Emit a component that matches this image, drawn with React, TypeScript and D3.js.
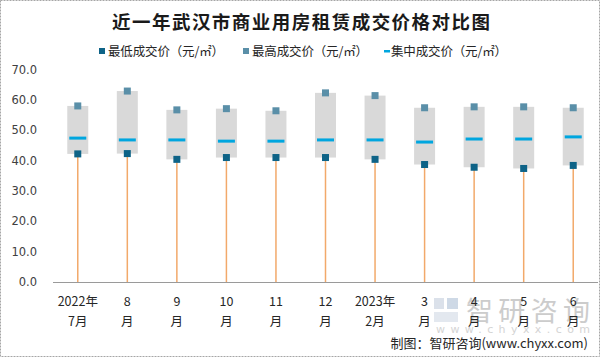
import React from "react";
import * as d3 from "d3";

// tick labels for the x axis (two lines each)
const months = ["2022年7月", "8月", "9月", "10月", "11月", "12月", "2023年2月", "3月", "4月", "5月", "6月"];
const line1 = ["2022年", "8", "9", "10", "11", "12", "2023年", "3", "4", "5", "6"];
const line2 = ["7月", "月", "月", "月", "月", "月", "2月", "月", "月", "月", "月"];

const lowPrice = [42.2, 42.3, 40.4, 41.0, 41.0, 41.0, 40.4, 38.7, 37.8, 37.4, 38.4];
const highPrice = [58.0, 62.9, 56.7, 57.1, 56.4, 62.3, 61.4, 57.4, 57.7, 57.7, 57.4];
const midPrice = [47.4, 46.8, 46.8, 46.4, 46.4, 46.8, 46.8, 46.1, 47.1, 47.1, 47.8];

const yTicks = [0, 10, 20, 30, 40, 50, 60, 70];

const W = 601;
const H = 358;

const cjk = "'Noto Sans CJK SC', sans-serif";

function App() {
  const x = d3.scaleBand().domain(months).range([53, 598]).padding(0);
  const y = d3.scaleLinear().domain([0, 70]).range([282, 69.5]);
  const cx = (m: string) => (x(m) as number) + x.bandwidth() / 2;

  const boxW = 21;
  const sq = 7;
  const midW = 17;

  return (
    <svg width={W} height={H} style={{ position: "absolute", left: 0, top: 0 }}>
      <rect x={0} y={0} width={W} height={H} fill="#fff" />
      <rect x={0.5} y={0.5} width={599} height={356} fill="none" stroke="#a6a6a6" strokeDasharray="2,1" />

      {/* title */}
      <text x={301} y={29} textAnchor="middle" fontFamily={cjk} fontWeight="bold" fontSize={18.5} fill="#1a1a1a" textLength={378}>
        近一年武汉市商业用房租赁成交价格对比图
      </text>

      {/* legend */}
      <g fontFamily={cjk} fontSize={12.5} fill="#262626">
        <rect x={99} y={48} width={6} height={6} fill="#0e6387" />
        <text x={108} y={55.5} textLength={116}>最低成交价（元/㎡）</text>
        <rect x={243} y={48} width={6} height={6} fill="#5a8fa8" />
        <text x={252} y={55.5} textLength={116}>最高成交价（元/㎡）</text>
        <rect x={384} y={50} width={6} height={2.5} fill="#00a6df" />
        <text x={391} y={55.5} textLength={116}>集中成交价（元/㎡）</text>
      </g>

      {/* y axis labels */}
      <g fontFamily="'DejaVu Sans', sans-serif" fontSize={11.5} fill="#404040">
        {yTicks.map((t) => (
          <text key={t} x={37} y={y(t) + 4} textAnchor="end">
            {t.toFixed(1)}
          </text>
        ))}
      </g>

      {/* watermark */}
      <g opacity={0.5}>
        <rect x={434} y={298} width={10} height={11} fill="#b8c4d6" />
        <rect x={447} y={298} width={11} height={11} fill="#9fb4cf" />
        <rect x={434} y={312} width={24} height={10} fill="#c9d3e0" />
        <text x={466} y={321} fontFamily={cjk} fontSize={27} fill="#9a9a9a" textLength={124}>
          智研咨询
        </text>
        <text x={436} y={333} fontFamily="'DejaVu Sans', sans-serif" fontSize={11} fill="#aaaaaa" textLength={154}>
          www.chyxx.com
        </text>
      </g>

      {/* stems */}
      {months.map((m, i) => (
        <line key={"s" + m} x1={cx(m)} x2={cx(m)} y1={y(lowPrice[i])} y2={y(0)} stroke="#f2a96a" strokeWidth={1.5} />
      ))}

      {/* axis line */}
      <line x1={53} x2={598} y1={282.5} y2={282.5} stroke="#9a9a9a" strokeWidth={1} />

      {/* boxes */}
      {months.map((m, i) => (
        <g key={"b" + m}>
          <rect
            x={cx(m) - boxW / 2}
            y={y(highPrice[i])}
            width={boxW}
            height={y(lowPrice[i]) - y(highPrice[i])}
            fill="#d9d9d9"
          />
          <rect x={cx(m) - midW / 2} y={y(midPrice[i]) - 1.5} width={midW} height={3} fill="#00a6df" />
          <rect x={cx(m) - sq / 2} y={y(highPrice[i]) - sq / 2} width={sq} height={sq} fill="#5a8fa8" />
          <rect x={cx(m) - sq / 2} y={y(lowPrice[i]) - sq / 2} width={sq} height={sq} fill="#0e6387" />
        </g>
      ))}

      {/* x labels */}
      <g fontFamily={cjk} fontSize={12.5} fill="#262626" textAnchor="middle">
        {months.map((m, i) => (
          <g key={"l" + m}>
            <text x={cx(m)} y={306}>{line1[i]}</text>
            <text x={cx(m)} y={326}>{line2[i]}</text>
          </g>
        ))}
      </g>

      {/* source */}
      <text x={588} y={348} textAnchor="end" fontFamily={cjk} fontSize={13} fill="#262626">
        制图：智研咨询(www.chyxx.com)
      </text>
    </svg>
  );
}

export default App;
